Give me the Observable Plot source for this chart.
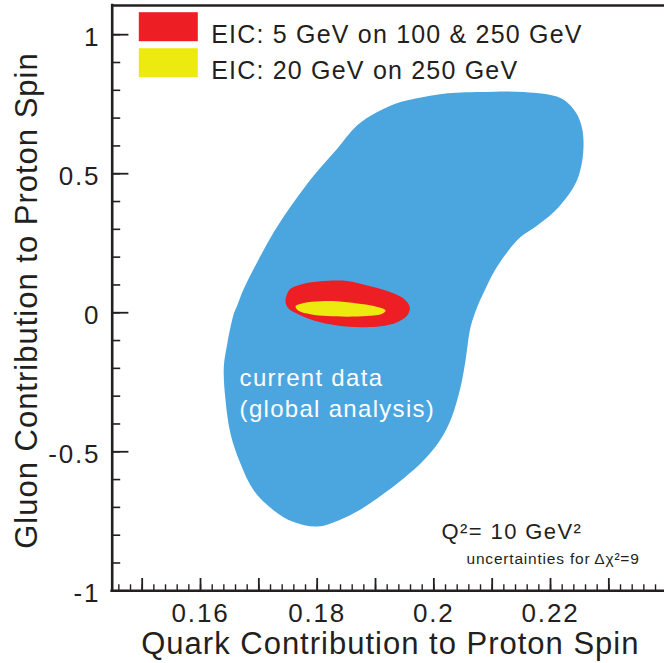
<!DOCTYPE html>
<html><head><meta charset="utf-8">
<script src="https://cdn.jsdelivr.net/npm/d3@7"></script>
<script src="https://cdn.jsdelivr.net/npm/@observablehq/plot@0.6"></script>
<style>body{margin:0;background:#fff;}</style>
</head><body><div id="chart"></div>
<script>
const ink = "#231f20";
const seriesNames = ["current data", "EIC: 5 GeV on 100 & 250 GeV", "EIC: 20 GeV on 250 GeV"];
const seriesColors = ["#4ba6df", "#ed1f24", "#edea10"];

// current data (global analysis) contour
const blueX = [0.16629, 0.16742, 0.16972, 0.17257, 0.17600, 0.17942, 0.18343, 0.18686, 0.19029, 0.19429, 0.19828, 0.20171, 0.20800, 0.21543, 0.22171, 0.22429, 0.22543, 0.22561, 0.22485, 0.22343, 0.22057, 0.21772, 0.21486, 0.21258, 0.21028, 0.20857, 0.20754, 0.20629, 0.20543, 0.20457, 0.20286, 0.20080, 0.19806, 0.19480, 0.19120, 0.18743, 0.18366, 0.18001, 0.17599, 0.17257, 0.16914, 0.16686, 0.16514, 0.16429, 0.16399, 0.16458, 0.16571];
const blueY = [0.026, 0.086, 0.182, 0.290, 0.398, 0.494, 0.590, 0.674, 0.722, 0.758, 0.776, 0.788, 0.794, 0.794, 0.772, 0.722, 0.662, 0.578, 0.494, 0.434, 0.362, 0.314, 0.272, 0.218, 0.146, 0.074, 0.026, -0.052, -0.172, -0.268, -0.387, -0.467, -0.535, -0.596, -0.654, -0.708, -0.747, -0.769, -0.753, -0.711, -0.639, -0.543, -0.435, -0.315, -0.196, -0.112, -0.004];
// EIC 5 GeV on 100 & 250 GeV
const redX = [0.17457, 0.17486, 0.17543, 0.17771, 0.18057, 0.18515, 0.18858, 0.19201, 0.19485, 0.19588, 0.19543, 0.19372, 0.19086, 0.18743, 0.18343, 0.17942, 0.17658, 0.17514];
const redY = [0.038, 0.068, 0.086, 0.104, 0.113, 0.114, 0.098, 0.078, 0.050, 0.020, -0.010, -0.034, -0.049, -0.052, -0.046, -0.028, -0.004, 0.014];
// EIC 20 GeV on 250 GeV
const yelX = [0.17629, 0.17771, 0.18057, 0.18343, 0.18686, 0.18971, 0.19172, 0.19115, 0.18858, 0.18515, 0.18172, 0.17886, 0.17686];
const yelY = [0.023, 0.035, 0.041, 0.041, 0.033, 0.024, 0.008, -0.004, -0.012, -0.014, -0.012, -0.005, 0.006];

const xDomain = [0.14486, 0.23954];
const yDomain = [-1, 1.105];
const xLabelTicks = [0.16, 0.18, 0.2, 0.22];
const xMajorTicks = [0.15, 0.16, 0.17, 0.18, 0.19, 0.2, 0.21, 0.22, 0.23];
const xMinorTicks = d3.range(146, 239, 2).map(v => v / 1000);
const yLabelTicks = [1, 0.5, 0, -0.5, -1];
const yMinorTicks = d3.range(-9, 11).map(v => v / 10);

const xTitle = "Quark Contribution to Proton Spin";
const yTitle = "Gluon Contribution to Proton Spin";
const noteLines = ["current data", "(global analysis)"];
const noteAt = {x: 0.16670, y: -0.186};
const q2Text = "Q²= 10 GeV²";
const q2At = {x: 0.20132, y: -0.759};
const uncText = "uncertainties for\u2009Δχ²=9";
const uncAt = {x: 0.2056, y: -0.863};

const W = 664, H = 663, mL = 111.7, mR = 0, mT = 5, mB = 72.7;
const fw = W - mL - mR, fh = H - mT - mB;

const pt = (xs, ys) => xs.map((x, i) => ({x, y: ys[i]}));

const chart = Plot.plot({
  width: W, height: H,
  marginLeft: mL, marginRight: mR, marginTop: mT, marginBottom: mB,
  x: {domain: xDomain, axis: null},
  y: {domain: yDomain, axis: null},
  style: {fontFamily: "'Liberation Sans', Arial, Helvetica, sans-serif", background: "#fff", overflow: "visible"},
  marks: [
    Plot.line(pt(blueX, blueY), {x: "x", y: "y", curve: "catmull-rom-closed", fill: seriesColors[0], stroke: "none"}),
    Plot.line(pt(redX, redY), {x: "x", y: "y", curve: "catmull-rom-closed", fill: seriesColors[1], stroke: "none"}),
    Plot.line(pt(yelX, yelY), {x: "x", y: "y", curve: "catmull-rom-closed", fill: seriesColors[2], stroke: "none"}),
    // annotation inside blue region
    Plot.text([noteLines.join("\n")], {x: noteAt.x, y: noteAt.y, text: d => d, textAnchor: "start", lineAnchor: "top", lineHeight: 1.28, fontSize: 24, fill: "#fff", ariaDescription: "note"}),
    Plot.text([q2Text], {x: q2At.x, y: q2At.y, text: d => d, textAnchor: "start", lineAnchor: "top", fontSize: 22, fill: ink, ariaDescription: "q2"}),
    Plot.text([uncText], {x: uncAt.x, y: uncAt.y, text: d => d, textAnchor: "start", lineAnchor: "top", fontSize: 15.5, fill: ink, ariaDescription: "unc"}),
    // legend
    Plot.frame({fill: seriesColors[1], stroke: null, insetLeft: 26.6, insetRight: fw - 85.6, insetTop: 6.7, insetBottom: fh - 35.7}),
    Plot.frame({fill: seriesColors[2], stroke: null, insetLeft: 26.6, insetRight: fw - 85.6, insetTop: 42.7, insetBottom: fh - 71.7}),
    Plot.text([seriesNames.slice(1).join("\n")], {frameAnchor: "top-left", text: d => d, dx: 99, dy: 12.3, lineAnchor: "top", lineHeight: 1.43, textAnchor: "start", fontSize: 25, fill: ink, ariaDescription: "legend"}),
    // ticks (inward)
    Plot.ruleX(xMinorTicks, {x: d => d, stroke: ink, strokeWidth: 1.4, insetTop: fh - 6}),
    Plot.ruleX(xMajorTicks, {x: d => d, stroke: ink, strokeWidth: 1.8, insetTop: fh - 12.3}),
    Plot.ruleY(yMinorTicks, {y: d => d, stroke: ink, strokeWidth: 1.6, insetRight: fw - 8.5}),
    Plot.ruleY(yLabelTicks, {y: d => d, stroke: ink, strokeWidth: 1.8, insetRight: fw - 16.7}),
    // axis lines
    Plot.ruleY([yDomain[0]], {stroke: ink, strokeWidth: 2.6, strokeLinecap: "square"}),
    Plot.ruleY([yDomain[1]], {stroke: ink, strokeWidth: 2.4}),
    Plot.ruleX([xDomain[0]], {stroke: ink, strokeWidth: 2.6, strokeLinecap: "square"}),
    // tick labels
    Plot.text(xLabelTicks, {x: d => d, text: d => String(d), frameAnchor: "bottom", dy: 23, lineAnchor: "middle", fontSize: 26, fill: ink, ariaDescription: "xticks"}),
    Plot.text(yLabelTicks, {y: d => d, text: d => String(d), frameAnchor: "left", dx: -12, dy: 3, textAnchor: "end", lineAnchor: "middle", fontSize: 26, fill: ink, ariaDescription: "yticks"}),
    // axis titles
    Plot.text([xTitle], {frameAnchor: "bottom", text: d => d, dx: 2, dy: 53, textAnchor: "middle", lineAnchor: "middle", fontSize: 31, fill: ink, ariaDescription: "xtitle"}),
    Plot.text([yTitle], {frameAnchor: "left", text: d => d, rotate: -90, dx: -85.6, dy: 2.4, textAnchor: "middle", lineAnchor: "middle", fontSize: 31, fill: ink, ariaDescription: "ytitle"})
  ]
});
document.getElementById("chart").appendChild(chart);

const spacing = {note: 1.3, q2: 1.4, unc: 0.8, legend: 1.2, xticks: 1.8, yticks: 1.8, xtitle: 1.0, ytitle: 1.0};
for (const [k, v] of Object.entries(spacing)) {
  chart.querySelectorAll(`g[aria-description="${k}"] text`).forEach(t => t.style.letterSpacing = v + "px");
}
</script>
</body></html>
